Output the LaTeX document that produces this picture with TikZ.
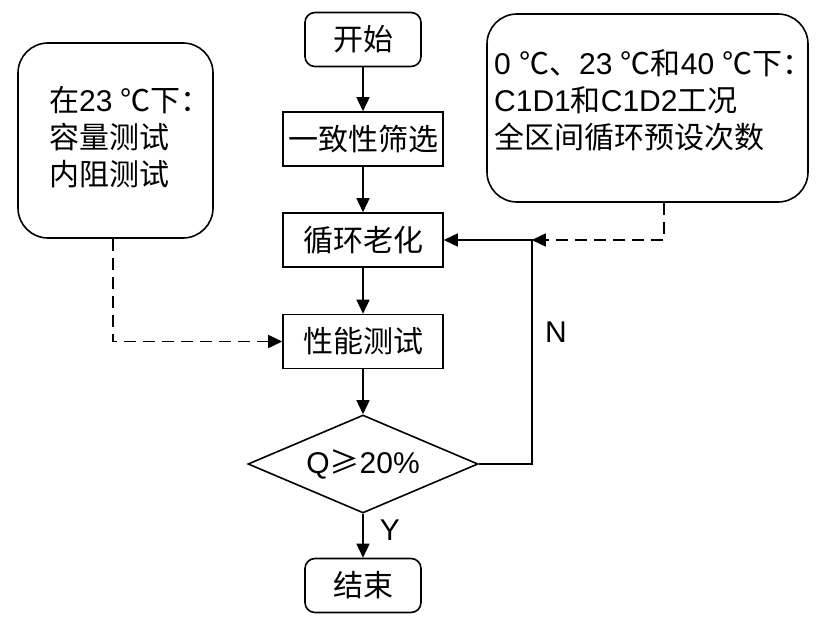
\documentclass[tikz,border=0pt]{standalone}
\usepackage{fontspec}
\setmainfont{Liberation Sans}
\newfontfamily\cjk{Noto Sans CJK SC}
\newcommand\zh[1]{{\cjk #1}}
\usetikzlibrary{arrows.meta,shapes.geometric,calc}
\begin{document}
\begin{tikzpicture}[x=1pt,y=-1pt,
  every node/.style={font=\fontsize{30}{37}\selectfont},
  ln/.style={line width=1.6pt},
  proc/.style={draw,line width=1.6pt,minimum width=160pt,minimum height=54pt,inner sep=0pt},
  term/.style={proc,rounded corners=10pt,minimum width=116pt},
  note/.style={draw,line width=1.6pt,rounded corners=30pt,inner sep=0pt},
  dec/.style={draw,line width=1.6pt,diamond,aspect=2.35,minimum width=230pt,minimum height=98pt,inner sep=0pt},
  arr/.style={ln,-{Triangle[length=14pt,width=13pt]}},
  darr/.style={arr,dash pattern=on 12pt off 7pt},
]
\useasboundingbox (0,0) rectangle (827,626);
\node[term] (start) at (363,39.5) {\zh{开始}};
\node[proc] (screen) at (363,139) {\zh{一致性筛选}};
\node[proc] (age) at (363,240) {\zh{循环老化}};
\node[proc] (perf) at (363,341.5) {\zh{性能测试}};
\node[dec] (q) at (363,464) {Q\zh{≥}20\%};
\node[term] (end) at (363,585.5) {\zh{结束}};
\node[note,minimum width=195pt,minimum height=195pt] (lbox) at (115.5,140.5) {};
\node[anchor=west,align=left,inner sep=0pt] (ltext) at (49,137) {\zh{在}23 \zh{℃下：}\\\zh{容量测试}\\\zh{内阻测试}};
\node[note,minimum width=321pt,minimum height=188pt] (rbox) at (647.5,108) {};
\node[anchor=west,align=left,inner sep=0pt] (rtext) at (494,100) {0 \zh{℃、}23 \zh{℃和}40 \zh{℃下：}\\C1D1\zh{和}C1D2\zh{工况}\\\zh{全区间循环预设次数}};
\path (age.east) ++(88,0) coordinate (j);
\draw[arr] (start) -- (screen);
\draw[arr] (screen) -- (age);
\draw[arr] (age) -- (perf);
\draw[arr] (perf) -- (q);
\draw[arr] (q) -- (end);
\node (ylab) at (390,530) {Y};
\draw[arr] (q.east) -| (j) -- (age.east);
\node (nlab) at (556,332) {N};
\draw[darr] ([xshift=16.5pt]rbox.south) |- (j);
\draw[darr] ([xshift=-2.5pt]lbox.south) |- (perf.west);
\end{tikzpicture}
\end{document}
